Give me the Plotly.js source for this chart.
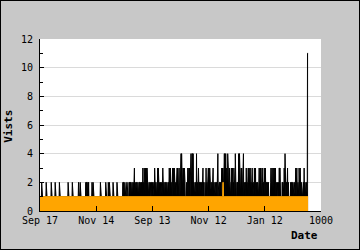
<!DOCTYPE html>
<html><head><meta charset="utf-8">
<script src="https://cdn.plot.ly/plotly-3.0.1.min.js"></script>
<style>
html,body{margin:0;padding:0;background:#c8c8c8}
#wrap{position:relative;width:360px;height:250px}
#chart{width:360px;height:250px}
#frame{position:absolute;left:0;top:0;width:360px;height:250px;box-sizing:border-box;border:1px solid #000;pointer-events:none}
</style>
</head><body><div id="wrap"><div id="chart"></div><div id="frame"></div></div>
<script>
const tickPositions = [0, 200, 400, 600, 800, 1000];
const tickLabels = ['Sep 17', 'Nov 14', 'Sep 13', 'Nov 12', 'Jan 12', '1000'];

const visits = [
1,1,1,1,1,1,2,1,2,1,1,1,1,1,1,1,1,1,1,1,1,1,2,1,1,1,1,1,1,1,1,1,1,1,1,1,
1,1,1,1,2,1,1,1,1,1,1,1,1,1,1,1,1,1,2,1,1,1,1,1,1,1,1,1,1,1,1,1,1,2,1,
1,1,1,1,1,1,1,1,1,1,1,1,1,1,1,1,1,1,1,1,1,1,1,1,1,1,1,1,1,2,1,2,1,1,1,1,
1,1,1,1,1,1,1,1,2,1,1,1,1,1,1,1,1,1,1,1,1,1,1,1,1,1,1,1,1,1,2,1,1,1,1,
1,2,1,1,1,1,1,1,1,1,1,1,1,1,1,1,1,1,1,1,1,2,1,2,2,1,2,1,2,2,1,2,1,1,1,1,
1,1,1,1,1,1,1,2,1,2,1,2,1,1,1,1,1,1,1,1,1,1,1,1,1,1,1,1,1,1,1,1,1,1,1,
1,1,2,1,1,1,1,1,1,1,1,1,1,1,1,1,1,1,1,1,1,2,1,2,1,1,1,1,1,1,2,1,2,1,2,1,
1,1,1,1,1,1,1,1,1,1,1,2,1,2,1,1,1,1,1,1,1,1,1,1,1,2,1,1,1,1,1,1,1,1,1,
1,1,1,1,1,1,1,1,1,1,1,2,1,2,2,1,2,1,2,1,1,1,1,2,1,2,2,1,2,1,1,1,1,2,1,2,
2,1,2,2,1,2,1,2,2,1,2,1,2,1,3,1,3,1,2,2,1,2,1,2,2,1,2,1,2,2,1,2,1,2,2,
2,1,2,1,1,1,2,1,2,2,1,3,1,3,2,1,3,1,2,1,2,3,1,3,2,1,3,1,2,2,1,2,1,2,2,1,
2,1,2,1,1,1,2,2,1,2,1,1,2,1,2,2,1,3,1,3,1,2,2,1,2,1,2,2,3,1,3,1,2,1,2,
2,1,2,2,1,2,1,2,2,1,2,3,1,3,1,2,2,1,2,1,2,2,1,2,1,2,2,1,2,1,2,2,1,2,3,1,
3,1,3,1,3,2,1,2,1,2,3,1,3,2,3,1,3,1,2,1,2,2,1,2,1,2,3,1,3,2,1,3,1,3,2,
2,1,2,1,2,4,1,4,3,1,3,2,3,1,3,2,1,3,1,2,1,1,1,1,1,2,1,2,2,3,1,3,2,3,1,3,
2,1,4,3,4,4,2,4,3,4,4,2,4,1,2,2,1,2,1,2,2,1,2,1,4,1,4,2,1,3,1,3,2,1,2,
2,1,2,2,1,2,1,2,2,1,2,1,3,1,2,1,1,1,1,2,1,2,1,3,1,2,2,1,2,1,2,3,1,3,2,1,
3,1,2,2,1,2,1,2,2,1,2,1,3,1,2,2,1,2,1,2,2,1,2,1,2,2,1,4,1,4,2,1,2,1,2,
2,2,1,2,1,1,3,1,3,2,3,1,3,2,1,3,2,4,3,4,1,3,4,2,3,1,3,2,1,4,2,3,1,3,2,3,
2,1,2,1,2,2,3,1,3,2,3,1,3,2,1,3,1,2,2,1,4,1,4,1,1,1,2,1,2,2,1,2,4,1,4,
4,2,1,2,1,2,3,1,3,2,1,3,1,2,4,1,2,2,1,2,1,2,2,1,3,1,3,2,1,3,1,3,2,1,3,1,
2,1,3,1,3,2,1,3,1,3,2,1,2,2,1,2,1,3,1,3,2,3,1,2,2,1,2,1,2,2,1,2,1,2,3,
1,3,2,3,1,3,2,1,3,1,3,2,1,2,2,1,2,3,1,3,1,3,2,1,2,2,1,2,1,2,2,1,2,1,1,1,
1,1,1,1,2,3,1,3,2,3,1,3,2,3,1,3,2,3,1,3,2,3,1,2,2,1,2,1,2,1,1,1,2,1,3,
3,1,3,2,1,1,1,1,1,1,2,1,2,2,1,2,1,3,1,2,4,1,2,1,2,2,1,2,1,3,1,2,2,1,1,1,
1,1,1,1,2,1,2,2,1,2,1,2,2,1,2,1,2,2,1,2,1,2,3,1,3,1,3,2,1,1,2,1,2,1,3,
2,3,1,3,2,1,2,2,1,2,1,1,2,1,2,2,1,3,1,2,2,1,2,1,2,2,1,2,1,11,11,11
];

const uniqueVisitors = [
1,1,1,1,1,1,1,1,1,1,1,1,1,1,1,1,1,1,1,1,1,1,1,1,1,1,1,1,1,1,1,1,1,1,1,1,
1,1,1,1,1,1,1,1,1,1,1,1,1,1,1,1,1,1,1,1,1,1,1,1,1,1,1,1,1,1,1,1,1,1,1,
1,1,1,1,1,1,1,1,1,1,1,1,1,1,1,1,1,1,1,1,1,1,1,1,1,1,1,1,1,1,1,1,1,1,1,1,
1,1,1,1,1,1,1,1,1,1,1,1,1,1,1,1,1,1,1,1,1,1,1,1,1,1,1,1,1,1,1,1,1,1,1,
1,1,1,1,1,1,1,1,1,1,1,1,1,1,1,1,1,1,1,1,1,1,1,1,1,1,1,1,1,1,1,1,1,1,1,1,
1,1,1,1,1,1,1,1,1,1,1,1,1,1,1,1,1,1,1,1,1,1,1,1,1,1,1,1,1,1,1,1,1,1,1,
1,1,1,1,1,1,1,1,1,1,1,1,1,1,1,1,1,1,1,1,1,1,1,1,1,1,1,1,1,1,1,1,1,1,1,1,
1,1,1,1,1,1,1,1,1,1,1,1,1,1,1,1,1,1,1,1,1,1,1,1,1,1,1,1,1,1,1,1,1,1,1,
1,1,1,1,1,1,1,1,1,1,1,1,1,1,1,1,1,1,1,1,1,1,1,1,1,1,1,1,1,1,1,1,1,1,1,1,
1,1,1,1,1,1,1,1,1,1,1,1,1,1,1,1,1,1,1,1,1,1,1,1,1,1,1,1,1,1,1,1,1,1,1,
1,1,1,1,1,1,1,1,1,1,1,1,1,1,1,1,1,1,1,1,1,1,1,1,1,1,1,1,1,1,1,1,1,1,1,1,
1,1,1,1,1,1,1,1,1,1,1,1,1,1,1,1,1,1,1,1,1,1,1,1,1,1,1,1,1,1,1,1,1,1,1,
1,1,1,1,1,1,1,1,1,1,1,1,1,1,1,1,1,1,1,1,1,1,1,1,1,1,1,1,1,1,1,1,1,1,1,1,
1,1,1,1,1,1,1,1,1,1,1,1,1,1,1,1,1,1,1,1,1,1,1,1,1,1,1,1,1,1,1,1,1,1,1,
1,1,1,1,1,1,1,1,1,1,1,1,1,1,1,1,1,1,1,1,1,1,1,1,1,1,1,1,1,1,1,1,1,1,1,1,
1,1,1,1,1,1,1,1,1,1,1,1,1,1,1,1,1,1,1,1,1,1,1,1,1,1,1,1,1,1,1,1,1,1,1,
1,1,1,1,1,1,1,1,1,1,1,1,1,1,1,1,1,1,1,1,1,1,1,1,1,1,1,1,1,1,1,1,1,1,1,1,
1,1,1,1,1,1,1,1,1,1,1,1,1,1,1,1,1,1,1,1,1,1,1,1,1,1,1,1,1,1,1,1,1,1,1,
1,1,1,1,1,1,1,1,1,1,1,1,2,2,1,1,1,1,1,1,1,1,1,1,1,1,1,1,1,1,1,1,1,1,1,1,
1,1,1,1,1,1,1,1,1,1,1,1,1,1,1,1,1,1,1,1,1,1,1,1,1,1,1,1,1,1,1,1,1,1,1,
1,1,1,1,1,1,1,1,1,1,1,1,1,1,1,1,1,1,1,1,1,1,1,1,1,1,1,1,1,1,1,1,1,1,1,1,
1,1,1,1,1,1,1,1,1,1,1,1,1,1,1,1,1,1,1,1,1,1,1,1,1,1,1,1,1,1,1,1,1,1,1,
1,1,1,1,1,1,1,1,1,1,1,1,1,1,1,1,1,1,1,1,1,1,1,1,1,1,1,1,1,1,1,1,1,1,1,1,
1,1,1,1,1,1,1,1,1,1,1,1,1,1,1,1,1,1,1,1,1,1,1,1,1,1,1,1,1,1,1,1,1,1,1,
1,1,1,1,1,1,1,1,1,1,1,1,1,1,1,1,1,1,1,1,1,1,1,1,1,1,1,1,1,1,1,1,1,1,1,1,
1,1,1,1,1,1,1,1,1,1,1,1,1,1,1,1,1,1,1,1,1,1,1,1,1,1,1,1,1,1,1,1,1,1,1,
1,1,1,1,1,1,1,1,1,1,1,1,1,1,1,1,1,1,1,1,1,1,1,1,1,1,1,1,1,1,1,1
];

const monoFont = 'DejaVu Sans Mono, Liberation Mono, monospace';

const traces = [
  {
    y: visits, type: 'scatter', mode: 'lines',
    line: {color: '#000000', width: 1},
    fill: 'tozeroy', fillcolor: '#000000',
    hoverinfo: 'skip', showlegend: false
  },
  {
    y: uniqueVisitors, type: 'scatter', mode: 'lines',
    line: {color: '#ffa500', width: 1},
    fill: 'tozeroy', fillcolor: '#ffa500',
    hoverinfo: 'skip', showlegend: false
  }
];

const layout = {
  width: 360, height: 250,
  margin: {l: 40, r: 39, t: 39, b: 39, pad: 0},
  paper_bgcolor: '#c8c8c8',
  plot_bgcolor: '#ffffff',
  showlegend: false,
  xaxis: {
    range: [0, 1000],
    tickmode: 'array', tickvals: tickPositions, ticktext: tickLabels,
    ticks: 'inside', ticklen: 5, tickwidth: 1, tickcolor: '#000',
    showline: true, linecolor: '#000', linewidth: 1,
    showgrid: false, zeroline: false,
    tickfont: {family: monoFont, size: 10, color: '#000'},
    fixedrange: true
  },
  yaxis: {
    range: [0, 12],
    dtick: 2, tick0: 0,
    ticks: 'inside', ticklen: 4, tickwidth: 1, tickcolor: '#000',
    minor: {dtick: 1, ticks: 'inside', ticklen: 3, tickcolor: '#000', showgrid: false},
    showline: true, linecolor: '#000', linewidth: 1,
    showgrid: true, gridcolor: '#dadada', gridwidth: 1,
    zeroline: false,
    tickfont: {family: monoFont, size: 10, color: '#000'},
    ticklabelstandoff: 4,
    fixedrange: true
  },
  annotations: [
    {
      text: 'Date', xref: 'paper', yref: 'paper',
      x: 1, y: -0.145, xanchor: 'right', yanchor: 'middle', xshift: -1,
      showarrow: false,
      font: {family: monoFont, size: 11, color: '#000', weight: 'bold'}
    },
    {
      text: 'Vists', xref: 'paper', yref: 'paper',
      x: -0.11, y: 0.49, xanchor: 'center', yanchor: 'middle',
      textangle: -90, showarrow: false,
      font: {family: monoFont, size: 11, color: '#000', weight: 'bold'}
    }
  ]
};

Plotly.newPlot('chart', traces, layout, {staticPlot: true, displayModeBar: false});
</script>
</body></html>
